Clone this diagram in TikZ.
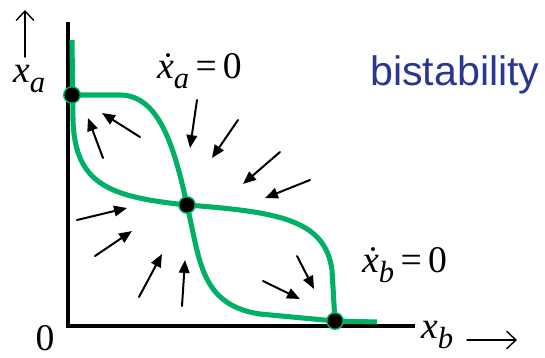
\documentclass[tikz,border=0pt]{standalone}
\usepackage{fontspec}
\setmainfont{Liberation Serif}
\newfontfamily\labelsans{Liberation Sans}
\usetikzlibrary{arrows.meta}
\definecolor{ncgreen}{RGB}{0,176,100}
\definecolor{titleblue}{RGB}{43,54,145}
\newcommand\lowsub[1]{\raisebox{-.28em}{\fontsize{26}{26}\selectfont\itshape #1}}

\begin{document}
\begin{tikzpicture}[x=.85pt,y=-.85pt,line cap=round,line join=round,
  flow/.style={-{Triangle[length=11pt,width=9pt]},line width=1.7pt},
  thinarr/.style={-{Straight Barb[length=8pt,width=15pt]},line width=1.2pt},
  nullcl/.style={ncgreen,line width=4.3pt,line cap=butt},
  fixpt/.style={circle,fill=black,draw=ncgreen,line width=1.2pt,minimum size=14pt,inner sep=0pt},
  lbl/.style={font=\fontsize{32}{34}\selectfont,inner sep=0pt,anchor=base west}]
\useasboundingbox(0,0)rectangle(545,357);
% axes
\draw[line width=2.6pt,line cap=butt,line join=miter](68,22)--(68,326)--(415,326);
\node[lbl](xa)at(13,82){\itshape x\lowsub{a}};
\node[lbl,anchor=base](zero)at(45,350){0};
\node[lbl](xb)at(421,338){\itshape x\lowsub{b}};
\coordinate(upbot)at(25,57);
\coordinate(uptop)at(25,10);
\coordinate(rtl)at(467,340);
\coordinate(rtr)at(517,340);
\draw[thinarr](upbot)--(uptop);
\draw[thinarr](rtl)--(rtr);
% nullclines
\draw[nullcl](72,95)--(120,95)..controls(160,95)and(175,150)..(187,205)
  ..controls(200,260)and(200,305)..(260,314)--(335,321)--(377,322);
\draw[nullcl](72,40)--(73,120)..controls(75,185)and(110,197)..(187,205)
  ..controls(280,212)and(325,220)..(332,270)--(335,322);
\node[lbl](nca)at(157,78){{\itshape\.{x}\lowsub{a}}\,=\,0};
\node[lbl](ncb)at(362,272){{\itshape\.{x}\lowsub{b}}\,=\,0};
\node[font=\labelsans\fontsize{35}{40}\selectfont,text=titleblue,anchor=base west,inner sep=0pt](title)
  at(370,85){bistability};
% flow field
\foreach \xa/\ya/\xb/\yb in {103/158/88/118,140/137/102/113,197/100/190/148,
  238/120/212/158,280/152/243/184,310/180/265/198,77/220/127/208,95/256/132/231,
  139/297/162/254,182/306/185/260,297/256/314/289,263/281/300/299}
  \draw[flow](\xa,\ya)--(\xb,\yb);
% steady states
\node[fixpt](hi)at(72,95){};
\node[fixpt](mid)at(187,205){};
\node[fixpt](lo)at(335,321){};
\end{tikzpicture}
\end{document}
